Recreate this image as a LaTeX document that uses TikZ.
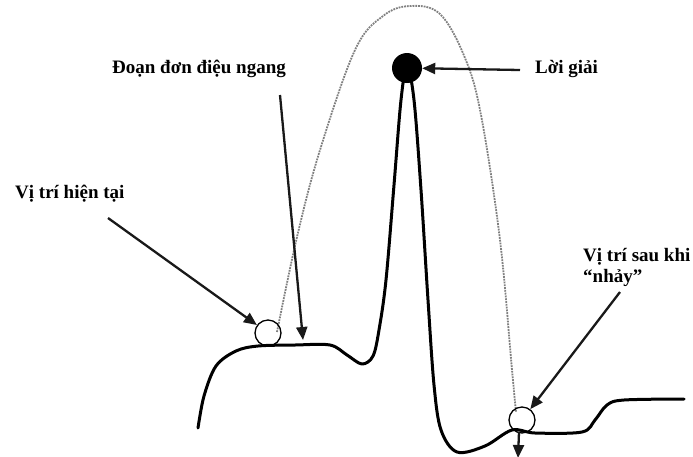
\documentclass[tikz,border=0pt]{standalone}
\usepackage{fontspec}
\setmainfont{Liberation Serif}
\usetikzlibrary{arrows.meta}
\begin{document}
\begin{tikzpicture}[x=1pt,y=-1pt,
  lbl/.style={anchor=base west,inner sep=0pt,font=\fontsize{19}{23}\selectfont\bfseries},
  ptr/.style={line width=2.3pt,draw=black!90,-{Triangle[length=13pt,width=11pt]}},
  curve/.style={line width=3pt,black,line cap=round,line join=round},
  jump/.style={line width=1.8pt,black!50,densely dotted},
  ball/.style={circle,draw=black,line width=1.3pt,minimum size=26pt,inner sep=0pt}]
\useasboundingbox (0,0) rectangle (693,456);
% landscape
\draw[curve] plot[smooth,tension=0.55] coordinates {(198,428) (204,396) (216,366) (236,351) (258,346) (295,345) (330,345) (347,355) (362,364) (373,356) (379,330) (386,280) (394,185) (401,100) (407,66) (414,100) (421,190) (428,300) (434,385) (441,430) (457,452) (485,446) (512,430) (535,433) (582,432) (595,420) (607,405) (624,400) (684,399)};
% jump trajectory
\draw[jump] plot[smooth,tension=0.6] coordinates {(277,332) (297,237) (320,150) (355,50) (383,16) (410,6) (440,14) (465,58) (481,115) (500,240) (512,370) (516,412)};
% markers
\node[ball] (cur) at (268,333) {};
\node[ball] (aft) at (522,420) {};
\node[circle,fill=black,minimum size=30pt,inner sep=0pt] (sol) at (407,68) {};
% labels
\node[lbl] (tflat) at (112,73) {Đoạn đơn điệu ngang};
\node[lbl] (tsol) at (535,73) {Lời giải};
\node[lbl] (tcur) at (15,198) {Vị trí hiện tại};
\node[lbl] (taft) at (583,261) {Vị trí sau khi};
\node[lbl] (taft2) at (583,282) {“nhảy”};
% arrow ends
\coordinate (a1) at (108,218);
\coordinate (a2) at (280,95);
\coordinate (a2e) at (303,340);
\coordinate (a3) at (520,70);
\coordinate (a4) at (620,292);
\coordinate (a5) at (519,432);
\coordinate (a5e) at (518,458);
\draw[ptr] (a1) -- (cur);
\draw[ptr] (a2) -- (a2e);
\draw[ptr] (a3) -- (sol);
\draw[ptr] (a4) -- (aft);
\draw[ptr] (a5) -- (a5e);
\end{tikzpicture}
\end{document}
